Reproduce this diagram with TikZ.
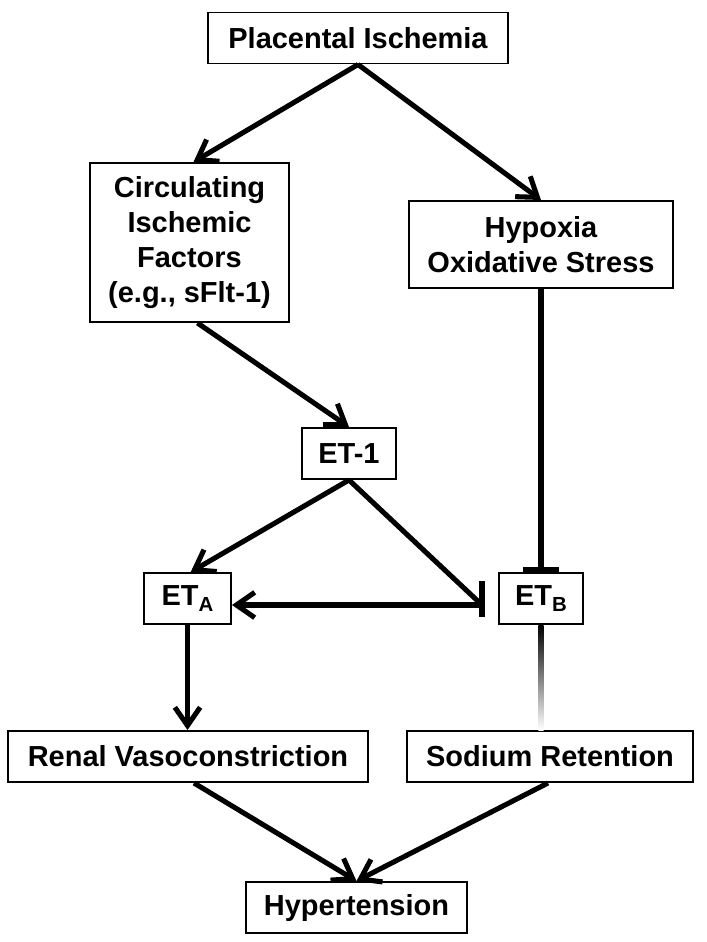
\documentclass[tikz,border=0pt]{standalone}
\usepackage{fontspec}
\setmainfont{Liberation Sans}
\usepackage{tikz}
\usetikzlibrary{arrows.meta}

\newcommand{\recsub}[1]{\raisebox{-0.4ex}{\fontsize{14.5}{14.5}\selectfont #1}}

\tikzset{
  box/.style={draw, line width=1.4pt, inner sep=0pt, align=center,
    font=\fontsize{20.6}{25}\selectfont\bfseries},
  link/.style={line width=3.6pt},
}

\begin{document}
\begin{tikzpicture}[x=0.025cm, y=-0.025cm,
    >={Straight Barb[length=13pt, width=18pt]}]

        \useasboundingbox (0,0) rectangle (706,942);

        % Top of the cascade
        \node[box, minimum width=7.5cm, minimum height=1.275cm] (pi) at (358,38) {Placental Ischemia};

        % Two branches
        \node[box, minimum width=4.975cm, minimum height=3.975cm] (cif) at (189.5,242.5)
            {Circulating\\Ischemic\\Factors\\(e.g., sFlt-1)};
        \node[box, minimum width=6.6cm, minimum height=2.175cm] (hox) at (541,244.5)
            {Hypoxia\\Oxidative Stress};

        % Endothelin and its receptors
        \node[box, minimum width=2.35cm, minimum height=1.275cm] (et1) at (349,453.5) {ET-1};
        \node[box, minimum width=2.175cm, minimum height=1.275cm] (eta) at (187.5,598.5) {ET\recsub{A}};
        \node[box, minimum width=2.1cm, minimum height=1.275cm] (etb) at (541,598.5) {ET\recsub{B}};

        % Effects
        \node[box, minimum width=9cm, minimum height=1.275cm] (rv) at (188,756.5) {Renal Vasoconstriction};
        \node[box, minimum width=7.15cm, minimum height=1.275cm] (sr) at (550,756.5) {Sodium Retention};
        \node[box, minimum width=5.525cm, minimum height=1.275cm] (hyp) at (356.5,907.5) {Hypertension};

        % Placental ischemia arrows
        \draw[link, ->] (pi.south) -- ([xshift=0.1cm]cif.north);
        \draw[link, ->] (pi.south) -- (hox.north);

        % Factors to ET-1
        \draw[link, ->] ([xshift=0.2cm]cif.south) -- (et1.north);

        % ET-1 to receptors
        \coordinate (tee) at (482,605);
        \draw[link, ->] (et1.south) -- ([xshift=0.08cm]eta.north);
        \draw[link] (et1.south) -- (tee);
        \draw[link] ([yshift=0.6cm]tee) -- ([yshift=-0.3cm]tee);
        \draw[link, ->] (tee) -- (eta.east |- tee);

        % Hypoxia blocks ET-B
        \draw[link, -{Bar[width=26pt]}] (hox.south -| etb) -- (etb.north);

        % ET-B fading into sodium retention
        \shade[top color=black, bottom color=white]
            ([xshift=-1.8pt]etb.south) rectangle ([xshift=1.8pt]etb.south |- sr.north);

        % ET-A to vasoconstriction
        \draw[link, ->] (eta.south) -- (eta.south |- rv.north);

        % Both to hypertension
        \draw[link, ->] ([xshift=0.15cm]rv.south) -- (hyp.north);
        \draw[link, ->] ([xshift=-0.05cm]sr.south) -- (hyp.north);

\end{tikzpicture}
\end{document}
